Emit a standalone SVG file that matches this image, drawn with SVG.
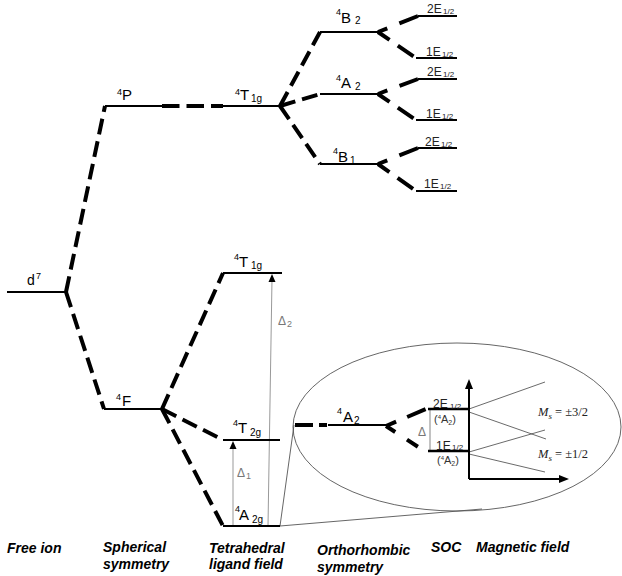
<svg xmlns="http://www.w3.org/2000/svg" width="622" height="576" viewBox="0 0 622 576">
<style>
text{font-family:"Liberation Sans",Arial,sans-serif;fill:#000}
.lb{font-size:15px}
.sp{font-size:9px}
.sb{font-size:10px}
.e{font-size:12px;fill:#222}
.es{font-size:8px;fill:#222}
.ax{font-size:14px;font-weight:bold;font-style:italic}
.ms{font-family:"Liberation Serif","Times New Roman",serif;font-size:12.5px;fill:#222}
.g{fill:#777}
.lv{stroke:#000;stroke-width:2;fill:none}
.dl{stroke:#000;stroke-width:4;stroke-dasharray:16 7;fill:none}
.su{stroke:#000;stroke-width:4;stroke-dasharray:10 13 30;fill:none}
.sl{stroke:#000;stroke-width:4;stroke-dasharray:14 10 19 100;fill:none}
.thin{stroke:#555;stroke-width:0.9;fill:none}
.ar{stroke:#999;stroke-width:1;fill:none}
.zl{stroke:#444;stroke-width:0.8;fill:none}
</style>
<g id="connectors">
<line class="dl" x1="66" y1="292" x2="105" y2="106"/>
<line class="dl" x1="66" y1="292" x2="104" y2="409"/>
<line x1="162" y1="106" x2="223" y2="106" stroke="#000" stroke-width="4" stroke-dasharray="17.5 7"/>
<line class="dl" x1="280" y1="106" x2="320" y2="32"/>
<line class="dl" x1="280" y1="106" x2="320" y2="94"/>
<line class="dl" x1="280" y1="106" x2="320" y2="164"/>
<line class="su" x1="378" y1="32" x2="418" y2="16"/>
<line class="sl" x1="378" y1="32" x2="416" y2="58"/>
<line class="su" x1="378" y1="94" x2="418" y2="79"/>
<line class="sl" x1="378" y1="94" x2="416" y2="120"/>
<line class="su" x1="378" y1="164" x2="418" y2="148"/>
<line class="sl" x1="378" y1="164" x2="416" y2="191"/>
<line class="dl" x1="162" y1="409" x2="223" y2="273"/>
<line class="dl" x1="162" y1="409" x2="223" y2="440"/>
<line class="dl" x1="162" y1="409" x2="223" y2="526"/>
<line class="thin" x1="280" y1="526" x2="294" y2="425"/>
<line class="thin" x1="280" y1="526" x2="482" y2="509"/>
<line x1="295" y1="425" x2="328" y2="425" stroke="#000" stroke-width="4" stroke-dasharray="18 6 8 100"/>
<line x1="386" y1="426" x2="426" y2="409" stroke="#000" stroke-width="4" stroke-dasharray="11 12 20"/>
<line x1="386" y1="426" x2="426" y2="452" stroke="#000" stroke-width="4" stroke-dasharray="11 14 13 100"/>
<line class="ar" x1="233" y1="526" x2="233" y2="446"/>
<polygon points="233,441 229.5,449 236.5,449" fill="#000"/>
<line class="ar" x1="268" y1="526" x2="272" y2="279"/>
<polygon points="272,274 268.5,282 275.5,282" fill="#000"/>
<line x1="430" y1="409" x2="430" y2="452" stroke="#999" stroke-width="1.2"/>
<line class="zl" x1="469" y1="409" x2="545" y2="382"/>
<line class="zl" x1="469" y1="412" x2="546" y2="439"/>
<line class="zl" x1="469" y1="452" x2="545" y2="430"/>
<line class="zl" x1="469" y1="454" x2="545" y2="472"/>
<line x1="469" y1="479" x2="469" y2="386" stroke="#000" stroke-width="2"/>
<polygon points="469,379 465,389 473,389" fill="#000"/>
<line x1="469" y1="479" x2="561" y2="479" stroke="#000" stroke-width="2"/>
<polygon points="569,479 559,475 559,483" fill="#000"/>
</g>
<ellipse id="zoom-ellipse" cx="457" cy="427" rx="164" ry="84" class="thin"/>
<g id="d7"><line class="lv" x1="7" y1="292" x2="66" y2="292"/><text x="27" y="285" style="font-size:14px">d</text><text x="36" y="279" class="sp">7</text></g>
<g id="P4"><line class="lv" x1="105" y1="106" x2="162" y2="106"/><text x="117" y="95" class="sp">4</text><text x="122" y="100" class="lb">P</text></g>
<g id="T1g-top"><line class="lv" x1="223" y1="106" x2="280" y2="106"/><text x="235" y="95" class="sp">4</text><text x="240" y="100" class="lb">T</text><text x="251" y="102" class="sb">1g</text></g>
<g id="B2"><line class="lv" x1="320" y1="32" x2="378" y2="32"/><text x="336" y="15" class="sp">4</text><text x="341" y="23" class="lb">B</text><text x="355" y="24" class="sb">2</text></g>
<g id="A2-top"><line class="lv" x1="320" y1="94" x2="378" y2="94"/><text x="336" y="81" class="sp">4</text><text x="341" y="88" class="lb">A</text><text x="355" y="90" class="sb">2</text></g>
<g id="B1"><line class="lv" x1="320" y1="164" x2="378" y2="164"/><text x="333" y="154" class="sp">4</text><text x="338" y="162" class="lb">B</text><text x="350" y="164" class="sb">1</text></g>
<g id="B2-2E"><line class="lv" x1="418" y1="16" x2="457" y2="16"/><text x="427" y="13" class="e">2E</text><text x="443" y="14" class="es">1/2</text></g>
<g id="B2-1E"><line class="lv" x1="416" y1="58" x2="457" y2="58"/><text x="426" y="56" class="e">1E</text><text x="442" y="57" class="es">1/2</text></g>
<g id="A2-2E"><line class="lv" x1="418" y1="79" x2="457" y2="79"/><text x="427" y="76" class="e">2E</text><text x="443" y="77" class="es">1/2</text></g>
<g id="A2-1E"><line class="lv" x1="416" y1="120" x2="457" y2="120"/><text x="426" y="118" class="e">1E</text><text x="442" y="119" class="es">1/2</text></g>
<g id="B1-2E"><line class="lv" x1="418" y1="148" x2="457" y2="148"/><text x="425" y="146" class="e">2E</text><text x="441" y="147" class="es">1/2</text></g>
<g id="B1-1E"><line class="lv" x1="416" y1="191" x2="457" y2="191"/><text x="424" y="188" class="e">1E</text><text x="440" y="189" class="es">1/2</text></g>
<g id="F4"><line class="lv" x1="104" y1="409" x2="162" y2="409"/><text x="116" y="400" class="sp">4</text><text x="122" y="406" class="lb">F</text></g>
<g id="T1g"><line class="lv" x1="223" y1="273" x2="282" y2="273"/><text x="234" y="260" class="sp">4</text><text x="239" y="267" class="lb">T</text><text x="251" y="269" class="sb">1g</text></g>
<g id="T2g"><line class="lv" x1="223" y1="440" x2="280" y2="440"/><text x="233" y="426" class="sp">4</text><text x="238" y="433" class="lb">T</text><text x="250" y="436" class="sb">2g</text></g>
<g id="A2g"><line class="lv" x1="223" y1="526" x2="280" y2="526"/><text x="235" y="512" class="sp">4</text><text x="239" y="520" class="lb">A</text><text x="252" y="523" class="sb">2g</text></g>
<g id="delta1"><text x="237" y="477" class="g" style="font-size:12px">Δ</text><text x="246" y="479" class="g sb" style="font-size:9px">1</text></g>
<g id="delta2"><text x="278" y="325" class="g" style="font-size:12px">Δ</text><text x="287" y="327" class="g sb" style="font-size:9px">2</text></g>
<g id="A2-orth"><line class="lv" x1="328" y1="425" x2="386" y2="425"/><text x="337" y="414" class="sp">4</text><text x="343" y="422" class="lb">A</text><text x="354" y="424" class="sb">2</text></g>
<g id="SOC-2E"><line x1="428" y1="409" x2="469" y2="409" stroke="#000" stroke-width="2.5"/><text x="433" y="408" class="e">2E</text><text x="450" y="409" class="es">1/2</text><text x="434" y="423" style="font-size:11px;fill:#333">(<tspan style="font-size:6px" dy="-4">4</tspan><tspan dy="4">A</tspan><tspan style="font-size:7px" dy="2">2</tspan><tspan dy="-2">)</tspan></text></g>
<g id="SOC-1E"><line x1="428" y1="451" x2="469" y2="451" stroke="#000" stroke-width="2.5"/><text x="436" y="450" class="e">1E</text><text x="452" y="450" class="es">1/2</text><text x="437" y="464" style="font-size:11px;fill:#333">(<tspan style="font-size:6px" dy="-4">4</tspan><tspan dy="4">A</tspan><tspan style="font-size:7px" dy="2">2</tspan><tspan dy="-2">)</tspan></text></g>
<g id="delta"><text x="418" y="436" class="g" style="font-size:12px">Δ</text></g>
<g id="Ms32"><text x="538" y="416" class="ms"><tspan font-style="italic">M</tspan><tspan font-style="italic" style="font-size:9px" dy="3">s</tspan><tspan dy="-3"> = ±3/2</tspan></text></g>
<g id="Ms12"><text x="538" y="458" class="ms"><tspan font-style="italic">M</tspan><tspan font-style="italic" style="font-size:9px" dy="3">s</tspan><tspan dy="-3"> = ±1/2</tspan></text></g>
<g id="axis-labels">
<text x="7" y="553" class="ax">Free ion</text>
<text x="103" y="552" class="ax">Spherical</text>
<text x="103" y="569" class="ax">symmetry</text>
<text x="209" y="553" class="ax">Tetrahedral</text>
<text x="209" y="569" class="ax">ligand field</text>
<text x="236" y="587" class="ax">(T<tspan style="font-size:10px">d</tspan>)</text>
<text x="317" y="555" class="ax">Orthorhombic</text>
<text x="317" y="572" class="ax">symmetry</text>
<text x="431" y="552" class="ax">SOC</text>
<text x="476" y="552" class="ax">Magnetic field</text>
</g>
</svg>
